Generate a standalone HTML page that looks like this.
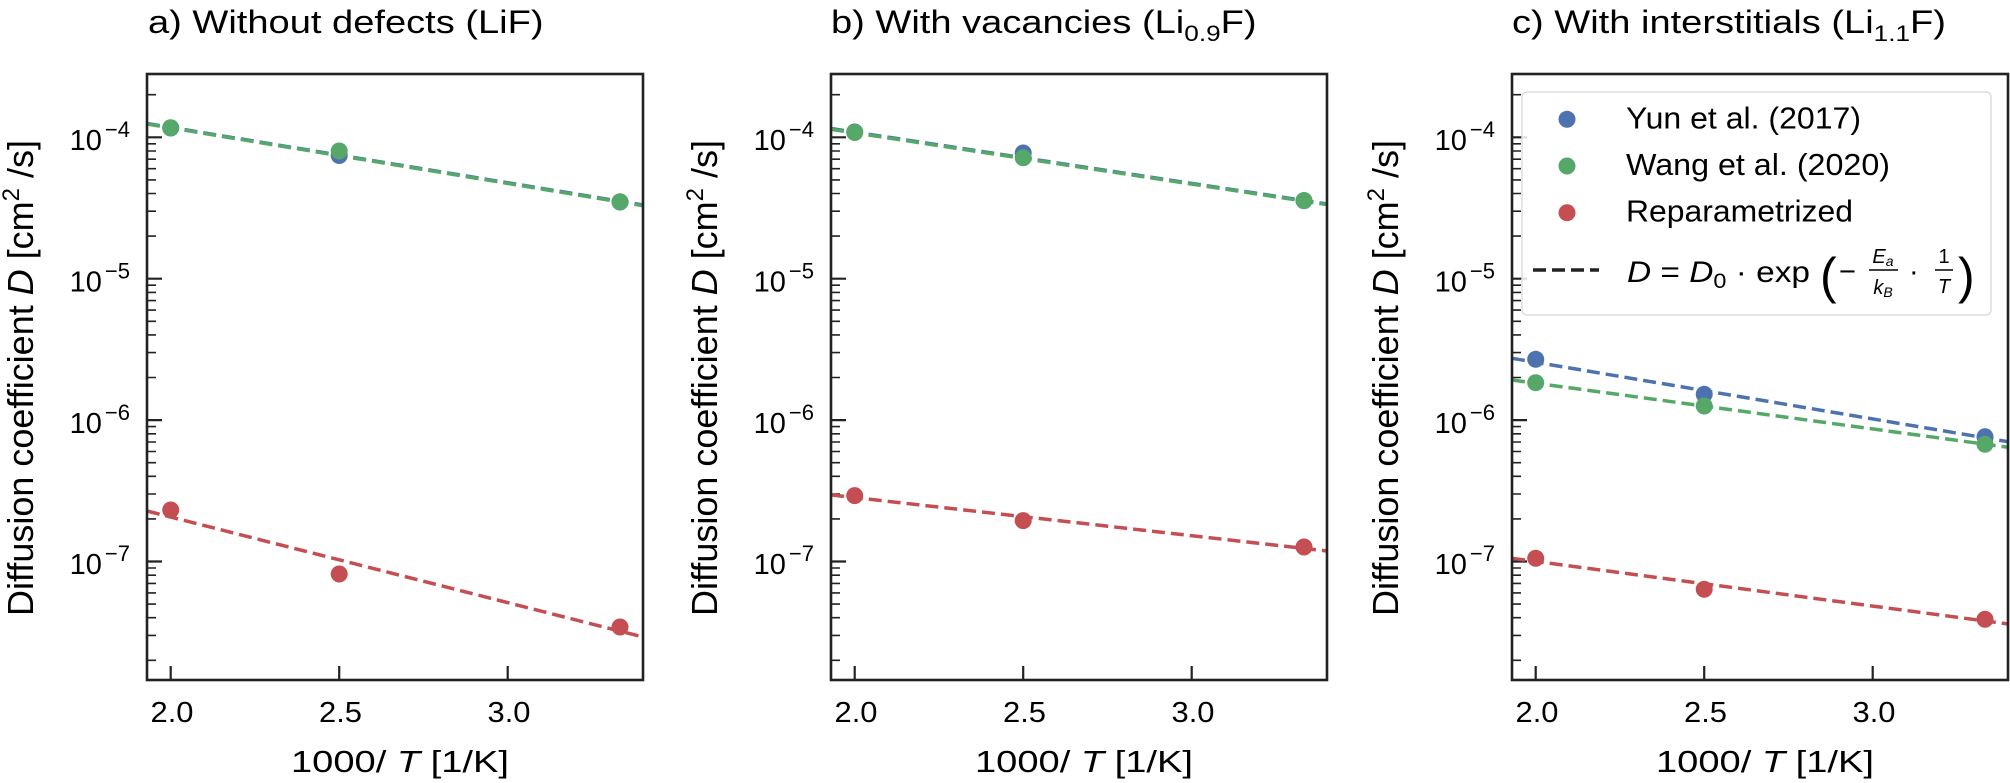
<!DOCTYPE html>
<html><head><meta charset="utf-8"><style>
html,body{margin:0;padding:0;background:#fff;}
svg{display:block;font-family:"Liberation Sans","DejaVu Sans",sans-serif;}
</style></head><body>
<svg width="2010" height="783" viewBox="0 0 2010 783" xmlns="http://www.w3.org/2000/svg">
<defs>
<g id="ticks" stroke="#222" fill="none">
  <path stroke-width="2.2" d="M0,137.3h15M0,278.7h15M0,420.1h15M0,561.5h15M23.7,680v-14M192.2,680v-14M360.7,680v-14"/>
  <path stroke-width="1.6" d="M0,660.3h9M0,635.4h9M0,617.7h9M0,604.1h9M0,592.9h9M0,583.4h9M0,575.2h9M0,568h9
  M0,518.9h9M0,494h9M0,476.3h9M0,462.7h9M0,451.5h9M0,442h9M0,433.8h9M0,426.6h9
  M0,377.5h9M0,352.6h9M0,334.9h9M0,321.3h9M0,310.1h9M0,300.6h9M0,292.4h9M0,285.2h9
  M0,236.1h9M0,211.2h9M0,193.5h9M0,179.9h9M0,168.7h9M0,159.2h9M0,151h9M0,143.8h9M0,94.7h9"/>
</g>
<g id="labels" fill="#000">
  <g font-size="29" text-anchor="end">
    <text x="-17" y="150">10<tspan dx="3" dy="-13" font-size="22">−4</tspan></text>
    <text x="-17" y="291.4">10<tspan dx="3" dy="-13" font-size="22">−5</tspan></text>
    <text x="-17" y="432.8">10<tspan dx="3" dy="-13" font-size="22">−6</tspan></text>
    <text x="-17" y="574.2">10<tspan dx="3" dy="-13" font-size="22">−7</tspan></text>
  </g>
  <g font-size="29" text-anchor="middle">
    <text x="25" y="722" textLength="43" lengthAdjust="spacingAndGlyphs">2.0</text>
    <text x="193.5" y="722" textLength="43" lengthAdjust="spacingAndGlyphs">2.5</text>
    <text x="362" y="722" textLength="43" lengthAdjust="spacingAndGlyphs">3.0</text>
  </g>
  <text x="144" y="772" font-size="31" textLength="218" lengthAdjust="spacingAndGlyphs">1000/ <tspan font-style="italic">T</tspan> [1/K]</text>
  <text transform="translate(-114,616) rotate(-90)" font-size="36" textLength="476" lengthAdjust="spacingAndGlyphs">Diffusion coefficient <tspan font-style="italic">D</tspan> [cm<tspan dy="-14" font-size="24">2</tspan><tspan dy="14"> /s]</tspan></text>
</g>
</defs>

<!-- Panel a -->
<g transform="translate(147,0)"><use href="#ticks"/><use href="#labels"/></g>
<text transform="translate(148,33) scale(1.19,1)" font-size="32">a) Without defects (LiF)</text>
<g fill="none" stroke-width="3.5" stroke-dasharray="13,6">
  <line x1="147" y1="123.5" x2="643" y2="205" stroke="#4c72b0"/>
  <line x1="147" y1="124" x2="643" y2="205.7" stroke="#55a868"/>
  <line x1="147" y1="511" x2="643" y2="637" stroke="#c44e52"/>
</g>
<g>
  <circle cx="170.7" cy="128" r="8.5" fill="#4c72b0"/><circle cx="339.2" cy="155.5" r="8.5" fill="#4c72b0"/><circle cx="620" cy="202" r="8.5" fill="#4c72b0"/>
  <circle cx="170.7" cy="127.7" r="8.5" fill="#55a868"/><circle cx="339.2" cy="151" r="8.5" fill="#55a868"/><circle cx="620" cy="201.8" r="8.5" fill="#55a868"/>
  <circle cx="170.7" cy="510" r="8.5" fill="#c44e52"/><circle cx="339.2" cy="574" r="8.5" fill="#c44e52"/><circle cx="620" cy="627" r="8.5" fill="#c44e52"/>
</g>
<rect x="147" y="74" width="496" height="606" fill="none" stroke="#222" stroke-width="2.6"/>

<!-- Panel b -->
<g transform="translate(831,0)"><use href="#ticks"/><use href="#labels"/></g>
<text transform="translate(831,33) scale(1.19,1)" font-size="32">b) With vacancies (Li<tspan dy="8" font-size="22">0.9</tspan><tspan dy="-8">F)</tspan></text>
<g fill="none" stroke-width="3.5" stroke-dasharray="13,6">
  <line x1="831" y1="128.5" x2="1327" y2="204" stroke="#4c72b0"/>
  <line x1="831" y1="129.3" x2="1327" y2="204.6" stroke="#55a868"/>
  <line x1="831" y1="494.9" x2="1327" y2="551" stroke="#c44e52"/>
</g>
<g>
  <circle cx="854.7" cy="132" r="8.5" fill="#4c72b0"/><circle cx="1023.2" cy="153" r="8.5" fill="#4c72b0"/><circle cx="1304" cy="200.6" r="8.5" fill="#4c72b0"/>
  <circle cx="854.7" cy="132.5" r="8.5" fill="#55a868"/><circle cx="1023.2" cy="157.8" r="8.5" fill="#55a868"/><circle cx="1304" cy="200.6" r="8.5" fill="#55a868"/>
  <circle cx="854.7" cy="495.6" r="8.5" fill="#c44e52"/><circle cx="1023.2" cy="520.6" r="8.5" fill="#c44e52"/><circle cx="1304" cy="547" r="8.5" fill="#c44e52"/>
</g>
<rect x="831" y="74" width="496" height="606" fill="none" stroke="#222" stroke-width="2.6"/>

<!-- Panel c -->
<g transform="translate(1512,0)"><use href="#ticks"/><use href="#labels"/></g>
<text transform="translate(1512,33) scale(1.19,1)" font-size="32">c) With interstitials (Li<tspan dy="8" font-size="22">1.1</tspan><tspan dy="-8">F)</tspan></text>
<g fill="none" stroke-width="3.5" stroke-dasharray="13,6">
  <line x1="1512" y1="358.3" x2="2008" y2="441.7" stroke="#4c72b0"/>
  <line x1="1512" y1="380" x2="2008" y2="447.3" stroke="#55a868"/>
  <line x1="1512" y1="558.3" x2="2008" y2="624" stroke="#c44e52"/>
</g>
<g>
  <circle cx="1535.7" cy="359.3" r="8.5" fill="#4c72b0"/><circle cx="1704.2" cy="394.3" r="8.5" fill="#4c72b0"/><circle cx="1985" cy="436.7" r="8.5" fill="#4c72b0"/>
  <circle cx="1535.7" cy="382.7" r="8.5" fill="#55a868"/><circle cx="1704.2" cy="406" r="8.5" fill="#55a868"/><circle cx="1985" cy="444.3" r="8.5" fill="#55a868"/>
  <circle cx="1535.7" cy="558.3" r="8.5" fill="#c44e52"/><circle cx="1704.2" cy="589.3" r="8.5" fill="#c44e52"/><circle cx="1985" cy="619.3" r="8.5" fill="#c44e52"/>
</g>
<rect x="1512" y="74" width="496" height="606" fill="none" stroke="#222" stroke-width="2.6"/>

<!-- Legend -->
<rect x="1522" y="92" width="469" height="223" rx="5" fill="#fff" fill-opacity="0.85" stroke="#ddd" stroke-width="1.5"/>
<circle cx="1567" cy="119.3" r="8.5" fill="#4c72b0"/>
<circle cx="1567" cy="166" r="8.5" fill="#55a868"/>
<circle cx="1567" cy="212.7" r="8.5" fill="#c44e52"/>
<line x1="1533" y1="270" x2="1599" y2="270" stroke="#222" stroke-width="3.5" stroke-dasharray="13,6"/>
<g font-size="31" fill="#000">
  <text x="1626" y="128.3" textLength="235" lengthAdjust="spacingAndGlyphs">Yun et al. (2017)</text>
  <text x="1626" y="175" textLength="264" lengthAdjust="spacingAndGlyphs">Wang et al. (2020)</text>
  <text x="1626" y="221.7" textLength="227" lengthAdjust="spacingAndGlyphs">Reparametrized</text>
  <text x="1627" y="282" font-size="30" textLength="183" lengthAdjust="spacingAndGlyphs"><tspan font-style="italic">D</tspan> = <tspan font-style="italic">D</tspan><tspan dy="6" font-size="21">0</tspan><tspan dy="-6"> · exp</tspan></text>
  <text x="1820" y="293" font-size="50" font-weight="300">(</text>
  <text x="1839" y="281" font-size="29">−</text>
  <text x="1883" y="263" font-size="20" text-anchor="middle" font-style="italic">E<tspan dy="3" font-size="14">a</tspan></text>
  <line x1="1869" y1="270" x2="1898" y2="270" stroke="#000" stroke-width="1.5"/>
  <text x="1883" y="294" font-size="20" text-anchor="middle" font-style="italic">k<tspan dy="3" font-size="14">B</tspan></text>
  <text x="1909" y="281" font-size="29">·</text>
  <text x="1944" y="263" font-size="20" text-anchor="middle">1</text>
  <line x1="1935" y1="270" x2="1953" y2="270" stroke="#000" stroke-width="1.5"/>
  <text x="1944" y="293" font-size="20" text-anchor="middle" font-style="italic">T</text>
  <text x="1958" y="293" font-size="50" font-weight="300">)</text>
</g>
</svg>
</body></html>
